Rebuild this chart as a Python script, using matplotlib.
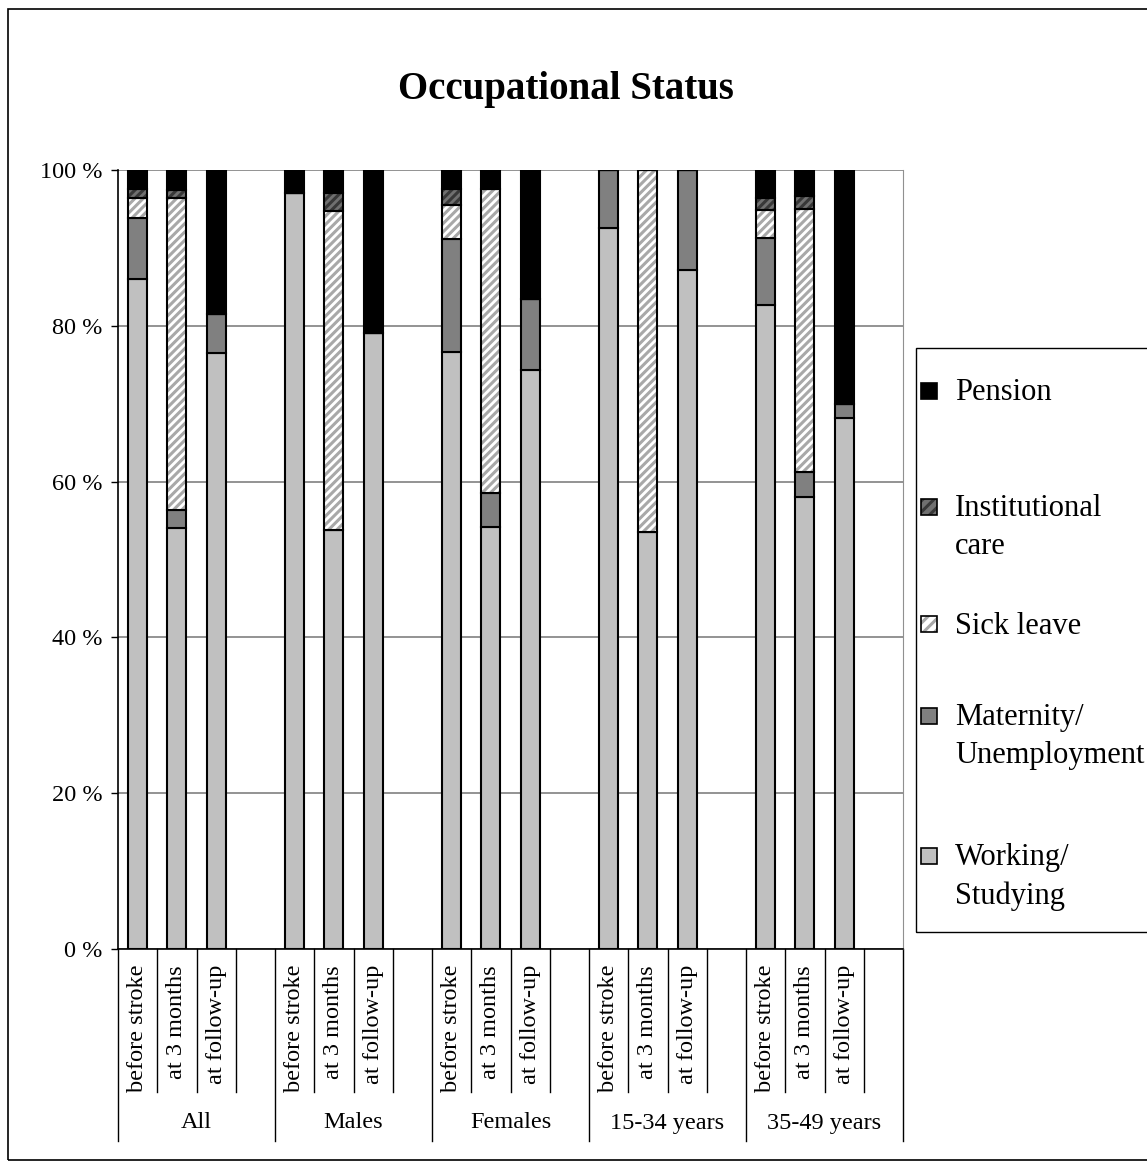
import matplotlib
matplotlib.use("Agg")
import matplotlib.pyplot as plt
from matplotlib.patches import Rectangle

plt.rcParams['font.family'] = ['Liberation Serif', 'DejaVu Serif']
plt.rcParams['hatch.linewidth'] = 2.2

groups = ["All", "Males", "Females", "15-34 years", "35-49 years"]
timepoints = ["before stroke", "at 3 months", "at follow-up"]

# segment sizes in %, order: All x3, Males x3, Females x3, 15-34 x3, 35-49 x3
working = [86.0, 54.0, 76.5, 97.1, 53.8, 79.1, 76.6, 54.2, 74.3, 92.6, 53.5, 87.2, 82.7, 58.0, 68.2]
maternity = [7.9, 2.4, 5.0, 0, 0, 0, 14.6, 4.4, 9.1, 7.4, 0, 12.8, 8.6, 3.2, 1.8]
sick_leave = [2.5, 40.0, 0, 0, 41.0, 0, 4.3, 39.0, 0, 0, 46.5, 0, 3.6, 33.8, 0]
institutional = [1.1, 1.0, 0, 0, 2.3, 0, 2.1, 0, 0, 0, 0, 0, 1.5, 1.6, 0]
pension = [2.5, 2.6, 18.5, 2.9, 2.9, 20.9, 2.4, 2.4, 16.6, 0, 0, 0, 3.6, 3.4, 30.0]

series = [
    ("Working/\nStudying", working, "#c0c0c0", None, None),
    ("Maternity/\nUnemployment", maternity, "#808080", None, None),
    ("Sick leave", sick_leave, "white", "////", "#a8a8a8"),
    ("Institutional\ncare", institutional, "#707070", "////", "#383838"),
    ("Pension", pension, "black", None, None),
]

W, H = 1147, 1166
fig = plt.figure(figsize=(W / 100, H / 100), dpi=100)


def fx(x):
    return x / W


def fy(y):
    return 1 - y / H


ax = fig.add_axes([fx(118), fy(949), fx(903) - fx(118), fy(170) - fy(949)])

n_slots = len(groups) * 4
pos = [g * 4 + t for g in range(len(groups)) for t in range(len(timepoints))]
bw = 0.48

bottom = [0.0] * len(pos)
for name, vals, face, hatch, hcol in series:
    if hatch:
        ax.bar(pos, vals, bw, bottom=bottom, color=face, hatch=hatch,
               edgecolor=hcol, linewidth=0, zorder=3)
        ax.bar(pos, vals, bw, bottom=bottom, fill=False, edgecolor="black",
               linewidth=1.5, zorder=4)
    else:
        ax.bar(pos, vals, bw, bottom=bottom, color=face, edgecolor="black",
               linewidth=1.5, zorder=3)
    bottom = [b + v for b, v in zip(bottom, vals)]

ax.set_xlim(-0.5, n_slots - 0.5)
ax.set_ylim(0, 100)
ax.set_yticks(range(0, 101, 20))
ax.set_yticklabels([f"{v} %" for v in range(0, 101, 20)], fontsize=17.5)
ax.tick_params(axis="y", direction="out", length=5, width=1, pad=6)
ax.set_xticks([])
ax.yaxis.grid(True, color="#808080", linewidth=1.2, zorder=0)
ax.set_axisbelow(True)
ax.spines["top"].set_visible(False)
ax.spines["right"].set_color("#909090")
ax.spines["left"].set_linewidth(1.2)
ax.spines["bottom"].set_linewidth(1.2)

# category / group axis below
tr = ax.get_xaxis_transform()
short = (949 - 1092) / 779
long_ = (949 - 1141) / 779
for k in range(n_slots + 1):
    y_end = long_ if k % 4 == 0 else short
    ax.plot([k - 0.5, k - 0.5], [0, y_end], transform=tr, color="black",
            linewidth=1, clip_on=False)
for p, lab in zip(pos, timepoints * len(groups)):
    ax.text(p, (949 - 965) / 779, lab, transform=tr, rotation=90,
            rotation_mode="anchor", ha="right", va="center", fontsize=17.5)
for g, lab in enumerate(groups):
    ax.text(g * 4 + 1.5, (949 - 1123) / 779, lab, transform=tr,
            ha="center", va="center", fontsize=17.5)

# title
fig.text(fx(566), fy(90), "Occupational Status", ha="center", va="center",
         fontsize=28, fontweight="bold")

# outer chart border
fig.patches.append(Rectangle((fx(8), fy(1160)), 1.2, fy(9) - fy(1160),
                             transform=fig.transFigure, fill=False,
                             edgecolor="black", linewidth=1.2))

# legend
fig.patches.append(Rectangle((fx(916), fy(932)), 1.2, fy(348) - fy(932),
                             transform=fig.transFigure, fill=False,
                             edgecolor="black", linewidth=1))
legend_rows = [(391, 4), (507, 3), (624, 2), (716, 1), (856, 0)]
sq = 16
for ycen, si in legend_rows:
    name, vals, face, hatch, hcol = series[si]
    xy = (fx(921), fy(ycen + sq / 2))
    wh = (fx(sq), fy(0) - fy(sq))
    if hatch:
        fig.patches.append(Rectangle(xy, *wh, transform=fig.transFigure,
                                     facecolor=face, hatch="///",
                                     edgecolor=hcol, linewidth=0))
        fig.patches.append(Rectangle(xy, *wh, transform=fig.transFigure,
                                     fill=False, edgecolor="black", linewidth=1.2))
    else:
        fig.patches.append(Rectangle(xy, *wh, transform=fig.transFigure,
                                     facecolor=face, edgecolor="black",
                                     linewidth=1.2))
    for i, line in enumerate(name.split("\n")):
        fig.text(fx(955), fy(ycen + 2 + 38 * i), line, ha="left", va="center",
                 fontsize=22)

fig.savefig("out.png", dpi=100)
